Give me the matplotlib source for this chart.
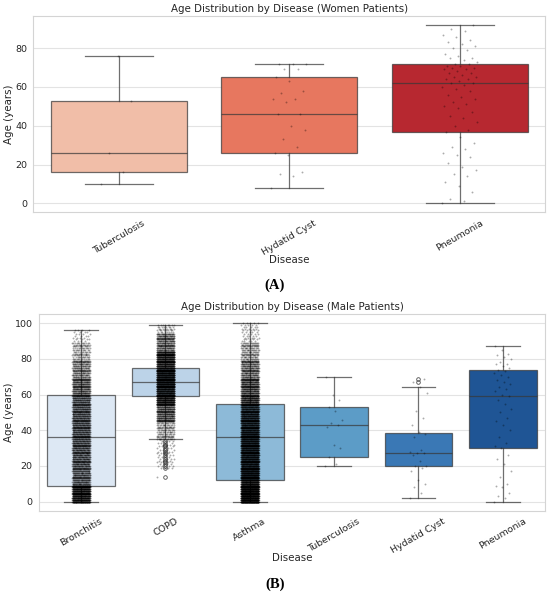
import numpy as np
import matplotlib
matplotlib.use("Agg")
import matplotlib.pyplot as plt

# ---------------- Data: women ----------------
women_categories = ["Tuberculosis", "Hydatid Cyst", "Pneumonia"]
women_whislo = [10, 8, 0]
women_q1 = [16, 26, 37]
women_median = [26, 46, 62]
women_q3 = [53, 65, 72]
women_whishi = [76, 72, 92]
women_colors = ["#f1bea8", "#e7775f", "#b72830"]

women_tb_ages = [10, 16, 26, 53, 76]
women_hc_ages = [8, 14, 15, 16, 25, 26, 29, 33, 38, 40, 46, 46, 52, 54, 54,
                 57, 58, 63, 65, 69, 69, 72, 72, 72]
women_pn_ages = [0, 1, 2, 6, 9, 11, 14, 15, 17, 19, 21, 24, 25, 26, 28, 29, 31, 34,
                 37, 38, 40, 42, 44, 45, 47, 49, 50, 51, 52, 54, 55, 56, 58, 59, 60, 61,
                 62, 62, 63, 64, 64, 65, 65, 66, 67, 67, 68, 69, 69, 70, 70, 71, 71, 72,
                 72, 73, 74, 75, 75, 76, 77, 79, 80, 81, 82, 83, 84, 86, 87, 89, 90, 92]

# ---------------- Data: men ----------------
male_categories = ["Bronchitis", "COPD", "Asthma", "Tuberculosis", "Hydatid Cyst", "Pneumonia"]
male_whislo = [0, 35, 0, 20, 2, 0]
male_q1 = [9, 59, 12, 25, 20, 30]
male_median = [36, 67, 36, 43, 27, 59]
male_q3 = [59.5, 75, 55, 53, 38.5, 74]
male_whishi = [96, 99, 100, 70, 64, 87]
male_colors = ["#dde8f4", "#bcd3e8", "#8dbad8", "#5c9cc7", "#3a78b5", "#1f5595"]
male_fliers_copd = [14, 19, 20, 21, 22, 23, 24, 25, 26, 27, 28, 29, 30, 31, 32, 33, 34]
male_fliers_hc = [67, 69]

# dense groups: integer ages in bands, with number of patients per age in each band
bronchitis_band_start = [0, 10, 20, 30, 40, 50, 60, 70, 80, 90]
bronchitis_band_end = [9, 19, 29, 39, 49, 59, 69, 79, 89, 96]
bronchitis_per_age = [80, 36, 40, 42, 42, 40, 36, 24, 12, 4]

copd_band_start = [14, 19, 35, 45, 55, 65, 75, 85, 95]
copd_band_end = [14, 34, 44, 54, 64, 74, 84, 94, 99]
copd_per_age = [1, 4, 14, 40, 80, 90, 70, 30, 8]

asthma_band_start = [0, 10, 20, 30, 40, 50, 60, 70, 80, 90]
asthma_band_end = [9, 19, 29, 39, 49, 59, 69, 79, 89, 100]
asthma_per_age = [120, 90, 80, 80, 70, 60, 45, 30, 16, 5]

male_tb_ages = [20, 21, 25, 30, 32, 42, 43, 44, 46, 51, 53, 57, 60, 70]
male_hc_ages = [2, 5, 8, 10, 12, 17, 19, 20, 20, 23, 26, 27, 27, 28, 29, 36, 38, 39,
                43, 47, 51, 61, 64, 67, 69]
male_pn_ages = [0, 2, 3, 5, 8, 9, 10, 14, 17, 21, 24, 26,
                30, 31, 33, 36, 40, 43, 45, 47, 50, 52, 55, 57,
                59, 60, 62, 63, 64, 66, 67, 68, 70, 71, 72, 73,
                74, 75, 76, 77, 77, 78, 80, 81, 82, 83, 85, 87]


def expand_bands(starts, ends, per_age):
    out = []
    for s, e, c in zip(starts, ends, per_age):
        out.append(np.repeat(np.arange(s, e + 1), c))
    return np.concatenate(out)


bronchitis_ages = expand_bands(bronchitis_band_start, bronchitis_band_end, bronchitis_per_age)
copd_ages = expand_bands(copd_band_start, copd_band_end, copd_per_age)
asthma_ages = expand_bands(asthma_band_start, asthma_band_end, asthma_per_age)

women_strips = [women_tb_ages, women_hc_ages, women_pn_ages]
male_strips = [bronchitis_ages, copd_ages, asthma_ages, male_tb_ages, male_hc_ages, male_pn_ages]
male_fliers = [[], male_fliers_copd, [], [], male_fliers_hc, []]

# ---------------- Figure ----------------
plt.rcParams["font.family"] = ["DejaVu Sans"]
fig = plt.figure(figsize=(5.5, 5.95), dpi=100)
ax1 = fig.add_axes([0.0609, 0.6432, 0.9300, 0.3300])
ax2 = fig.add_axes([0.0709, 0.1420, 0.9200, 0.3297])

LINE = (0.22, 0.22, 0.22, 0.72)
TEXT = "#262626"
LBL = 7.4
TCK = 6.8


def draw(ax, cats, lo, q1, med, q3, hi, fliers, colors, strips):
    n = len(cats)
    stats = []
    for i in range(n):
        stats.append(dict(whislo=lo[i], q1=q1[i], med=med[i], q3=q3[i],
                          whishi=hi[i], fliers=fliers[i], label=cats[i]))
    bp = ax.bxp(stats, positions=list(range(n)), widths=0.8, capwidths=0.4,
                patch_artist=True, showfliers=True,
                medianprops=dict(color=LINE, linewidth=0.9),
                whiskerprops=dict(color=LINE, linewidth=0.9),
                capprops=dict(color=LINE, linewidth=0.9),
                flierprops=dict(marker="o", markersize=2.6, markerfacecolor="none",
                                markeredgecolor=(0.3, 0.3, 0.3), markeredgewidth=0.6))
    for patch, c in zip(bp["boxes"], colors):
        patch.set_facecolor(c)
        patch.set_edgecolor(LINE)
        patch.set_linewidth(0.9)
    for i, vals in enumerate(strips):
        vals = np.asarray(vals, dtype=float)
        k = np.arange(len(vals))
        jit = ((k * 0.6180339887) % 1.0 - 0.5) * 0.21
        ax.scatter(i + jit, vals, s=1.8, c="black", alpha=0.33, linewidths=0, zorder=4)
    ax.set_xlim(-0.5, n - 0.5)
    ax.set_xticks(range(n))
    ax.set_xticklabels(cats, rotation=30, ha="center")
    ax.set_facecolor("white")
    ax.grid(axis="y", color="#e3e3e3", linewidth=0.8)
    ax.grid(axis="x", visible=False)
    ax.set_axisbelow(True)
    for sp in ax.spines.values():
        sp.set_color("#d4d4d4")
        sp.set_linewidth(0.8)
    ax.tick_params(length=0, labelsize=TCK, colors=TEXT, pad=4.5)


draw(ax1, women_categories, women_whislo, women_q1, women_median, women_q3, women_whishi,
     [[], [], []], women_colors, women_strips)
ax1.set_ylim(-4.6, 96.6)
ax1.set_yticks([0, 20, 40, 60, 80])
ax1.set_title("Age Distribution by Disease (Women Patients)", fontsize=LBL, color=TEXT, pad=3)
ax1.set_xlabel("Disease", fontsize=LBL, color=TEXT, va="center")
ax1.xaxis.set_label_coords(0.5, -0.2415)
ax1.set_ylabel("Age (years)", fontsize=LBL, color=TEXT, va="center")
ax1.yaxis.set_label_coords(-0.0479, 0.5)

draw(ax2, male_categories, male_whislo, male_q1, male_median, male_q3, male_whishi,
     male_fliers, male_colors, male_strips)
ax2.set_ylim(-5, 105)
ax2.set_yticks([0, 20, 40, 60, 80, 100])
ax2.set_title("Age Distribution by Disease (Male Patients)", fontsize=LBL, color=TEXT, pad=3)
ax2.set_xlabel("Disease", fontsize=LBL, color=TEXT, va="center")
ax2.xaxis.set_label_coords(0.5, -0.2406)
ax2.set_ylabel("Age (years)", fontsize=LBL, color=TEXT, va="center")
ax2.yaxis.set_label_coords(-0.0583, 0.5)

fig.text(0.5, 1 - 285.7 / 595, "(A)", ha="center", va="center", fontsize=10.5,
         fontweight="bold", family=["Liberation Serif", "DejaVu Serif"])
fig.text(0.5, 1 - 584 / 595, "(B)", ha="center", va="center", fontsize=10.5,
         fontweight="bold", family=["Liberation Serif", "DejaVu Serif"])

fig.savefig("out.png", dpi=100, facecolor="white")
